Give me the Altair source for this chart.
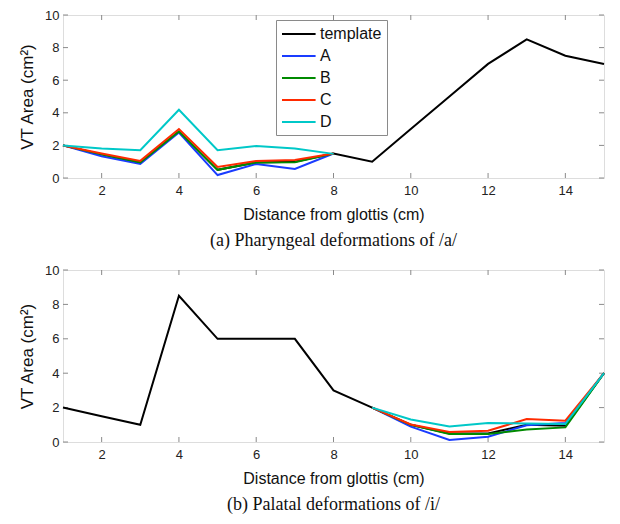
import altair as alt
import pandas as pd

# ---------------- data ----------------
x_all = list(range(1, 16))
x_top_def = list(range(1, 9))
x_bot_def = list(range(9, 16))

top_template = [2.0, 1.45, 0.95, 2.85, 0.5, 0.95, 1.0, 1.5, 1.0, 3.0, 5.0, 7.0, 8.5, 7.5, 7.0]
top_A = [2.0, 1.33, 0.86, 2.79, 0.18, 0.86, 0.55, 1.5]
top_B = [2.0, 1.45, 0.95, 2.85, 0.50, 0.95, 0.97, 1.5]
top_C = [2.0, 1.50, 1.05, 3.00, 0.68, 1.05, 1.11, 1.5]
top_D = [2.0, 1.81, 1.71, 4.19, 1.71, 1.97, 1.81, 1.48]

bot_template = [2.0, 1.5, 1.0, 8.5, 6.0, 6.0, 6.0, 3.0, 2.0, 1.0, 0.5, 0.5, 1.0, 0.95, 4.0]
bot_A = [2.0, 0.89, 0.12, 0.31, 0.97, 1.10, 4.0]
bot_B = [2.0, 1.00, 0.46, 0.46, 0.73, 0.85, 4.0]
bot_C = [2.0, 1.02, 0.58, 0.66, 1.33, 1.24, 4.0]
bot_D = [2.0, 1.31, 0.90, 1.10, 1.08, 1.05, 4.0]

series = ["template", "A", "B", "C", "D"]
colors = ["#000000", "#1a3cff", "#008a00", "#ff2a00", "#00c8c8"]

x_ticks = [2, 4, 6, 8, 10, 12, 14]
y_ticks = [0, 2, 4, 6, 8, 10]

x_title = "Distance from glottis (cm)"
y_title = "VT Area (cm²)"
caption_top = "(a) Pharyngeal deformations of /a/"
caption_bot = "(b) Palatal deformations of /i/"


def build_df(template, defs, xdef):
    rows = []
    for xv, yv in zip(x_all, template):
        rows.append({"x": xv, "y": yv, "s": "template", "o": 0})
    for k, (name, vals) in enumerate(zip(["A", "B", "C", "D"], defs)):
        for xv, yv in zip(xdef, vals):
            rows.append({"x": xv, "y": yv, "s": name, "o": k + 1})
    return pd.DataFrame(rows)


df_top = build_df(top_template, [top_A, top_B, top_C, top_D], x_top_def)
df_bot = build_df(bot_template, [bot_A, bot_B, bot_C, bot_D], x_bot_def)
xt = pd.DataFrame({"v": x_ticks})
yt = pd.DataFrame({"v": y_ticks})

W = 541
GRAY = "#8a8a8a"
TICK = 5

xscale = alt.Scale(domain=[1, 15], nice=False, zero=False)
yscale = alt.Scale(domain=[0, 10], nice=False)
xaxis = alt.Axis(values=x_ticks, title=x_title, ticks=False, domain=False, grid=False,
                 labelPadding=6, titlePadding=9, labelFontSize=13, titleFontSize=16,
                 labelColor="#222222", titleColor="#111111", titleFontWeight="normal",
                 labelFont="Liberation Sans", titleFont="Liberation Sans")
yaxis = alt.Axis(values=y_ticks, title=y_title, ticks=False, domain=False, grid=False,
                 labelPadding=4, titlePadding=8, labelFontSize=13, titleFontSize=17,
                 labelColor="#222222", titleColor="#111111", titleFontWeight="normal",
                 labelFont="Liberation Sans", titleFont="Liberation Sans")


def panel(df, H, caption, show_legend):
    if show_legend:
        legend = alt.Legend(title=None, orient="none", legendX=213, legendY=5,
                            symbolType="M-1,0H3.2", symbolSize=256, symbolStrokeWidth=2,
                            labelFontSize=16, labelFont="Liberation Sans", labelColor="#111111",
                            rowPadding=5, padding=5, strokeColor=GRAY, fillColor="white",
                            labelOffset=21, cornerRadius=0, labelLimit=200)
    else:
        legend = None
    color = alt.Color("s:N", scale=alt.Scale(domain=series, range=colors), legend=legend)
    lines = alt.Chart(df).mark_line(strokeWidth=2).encode(
        x=alt.X("x:Q", scale=xscale, axis=xaxis),
        y=alt.Y("y:Q", scale=yscale, axis=yaxis),
        color=color,
        order=alt.Order("x:Q"),
        detail="o:N",
    )
    yl = alt.Chart(yt).mark_rule(color=GRAY).encode(
        y=alt.Y("v:Q", scale=yscale, axis=yaxis), x=alt.value(0), x2=alt.value(TICK))
    yr = alt.Chart(yt).mark_rule(color=GRAY).encode(
        y=alt.Y("v:Q", scale=yscale, axis=yaxis), x=alt.value(W - TICK), x2=alt.value(W))
    xb = alt.Chart(xt).mark_rule(color=GRAY).encode(
        x=alt.X("v:Q", scale=xscale, axis=xaxis), y=alt.value(H - TICK), y2=alt.value(H))
    xtp = alt.Chart(xt).mark_rule(color=GRAY).encode(
        x=alt.X("v:Q", scale=xscale, axis=xaxis), y=alt.value(0), y2=alt.value(TICK))
    return alt.layer(yl, yr, xb, xtp, lines).properties(
        width=W, height=H,
        title=alt.TitleParams(caption, orient="bottom", font="Liberation Serif", fontSize=18,
                              fontWeight="normal", color="#111111", anchor="middle",
                              frame="group", offset=10),
    )


top = panel(df_top, 163, caption_top, True)
bot = panel(df_bot, 172, caption_bot, False)

chart = alt.vconcat(top, bot, spacing=12).resolve_scale(color="independent").properties(
    padding={"left": 10, "top": 0, "right": 0, "bottom": 0}
).configure_view(stroke=GRAY, strokeWidth=1).configure(background="white")

chart.save("out.html", embed_options={"renderer": "svg", "actions": False})
